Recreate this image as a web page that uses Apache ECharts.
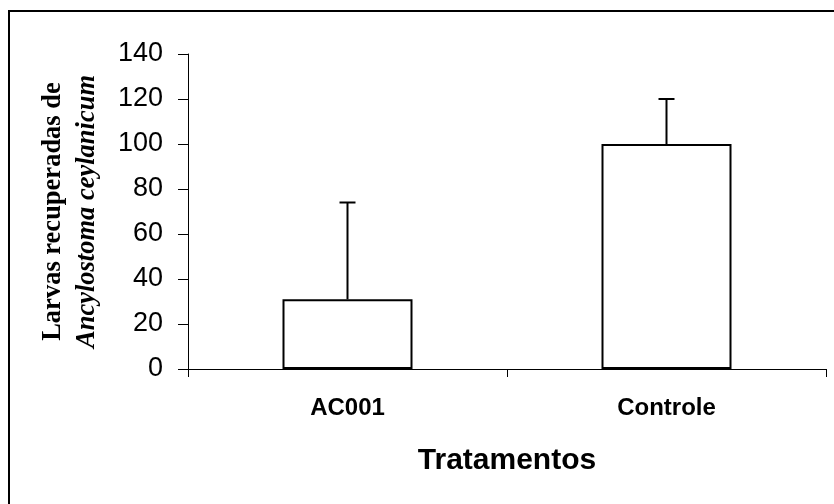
<!DOCTYPE html>
<html>
<head>
<meta charset="utf-8">
<script src="https://cdn.jsdelivr.net/npm/echarts@6/dist/echarts.min.js"></script>
<style>
  html, body { margin: 0; padding: 0; background: #fff; }
  #chart { width: 834px; height: 504px; }
</style>
</head>
<body>
<div id="chart"></div>
<script>
// dados
const categories = ['AC001', 'Controle'];
const means = [31, 100];
const errUpper = [74, 120];
const yTicks = { min: 0, max: 140, step: 20 };

const chart = echarts.init(document.getElementById('chart'));

const option = {
  backgroundColor: '#fff',
  animation: false,
  grid: { left: 188, right: 8, top: 54, bottom: 135 },
  graphic: [
    {
      type: 'rect',
      shape: { x: 9, y: 11, width: 900, height: 600 },
      style: { fill: 'none', stroke: '#000', lineWidth: 2 },
      silent: true
    }
  ],
  xAxis: {
    type: 'category',
    data: categories,
    name: 'Tratamentos',
    nameLocation: 'middle',
    nameGap: 77,
    nameTextStyle: { fontFamily: 'Liberation Sans, Arial', fontWeight: 'bold', fontSize: 30, color: '#000' },
    axisLine: { lineStyle: { color: '#000', width: 1 } },
    axisTick: { show: true, length: 8, lineStyle: { color: '#000' } },
    axisLabel: { margin: 27, fontFamily: 'Liberation Sans, Arial', fontWeight: 'bold', fontSize: 24, color: '#000' }
  },
  yAxis: {
    type: 'value',
    min: yTicks.min,
    max: yTicks.max,
    interval: yTicks.step,
    name: '{a|Larvas recuperadas de}\n{b|Ancylostoma ceylanicum}',
    nameLocation: 'middle',
    nameRotate: 90,
    nameGap: 84,
    nameTextStyle: {
      color: '#000',
      lineHeight: 34,
      rich: {
        a: { fontFamily: 'Liberation Serif, Times New Roman', fontWeight: 'bold', fontSize: 26.5, lineHeight: 34, color: '#000' },
        b: { fontFamily: 'Liberation Serif, Times New Roman', fontWeight: 'bold', fontStyle: 'italic', fontSize: 26.5, lineHeight: 34, color: '#000' }
      }
    },
    axisLine: { show: true, lineStyle: { color: '#000', width: 1 } },
    axisTick: { show: true, length: 10, lineStyle: { color: '#000' } },
    splitLine: { show: false },
    axisLabel: { margin: 25, fontFamily: 'Liberation Sans, Arial', fontSize: 27, color: '#000' }
  },
  series: [
    {
      type: 'bar',
      data: means,
      barWidth: 130,
      itemStyle: { color: '#fff', borderColor: '#000', borderWidth: 2 },
      z: 2
    },
    {
      type: 'custom',
      z: 3,
      data: categories.map((c, i) => [i, means[i], errUpper[i]]),
      renderItem: function (params, api) {
        const mid = api.coord([api.value(0), api.value(1)]);
        const top = api.coord([api.value(0), api.value(2)]);
        const half = 8;
        const style = { stroke: '#000', lineWidth: 2 };
        return {
          type: 'group',
          children: [
            { type: 'line', shape: { x1: mid[0], y1: mid[1], x2: top[0], y2: top[1] }, style: style },
            { type: 'line', shape: { x1: top[0] - half, y1: top[1], x2: top[0] + half, y2: top[1] }, style: style }
          ]
        };
      }
    }
  ]
};

chart.setOption(option);
</script>
</body>
</html>
